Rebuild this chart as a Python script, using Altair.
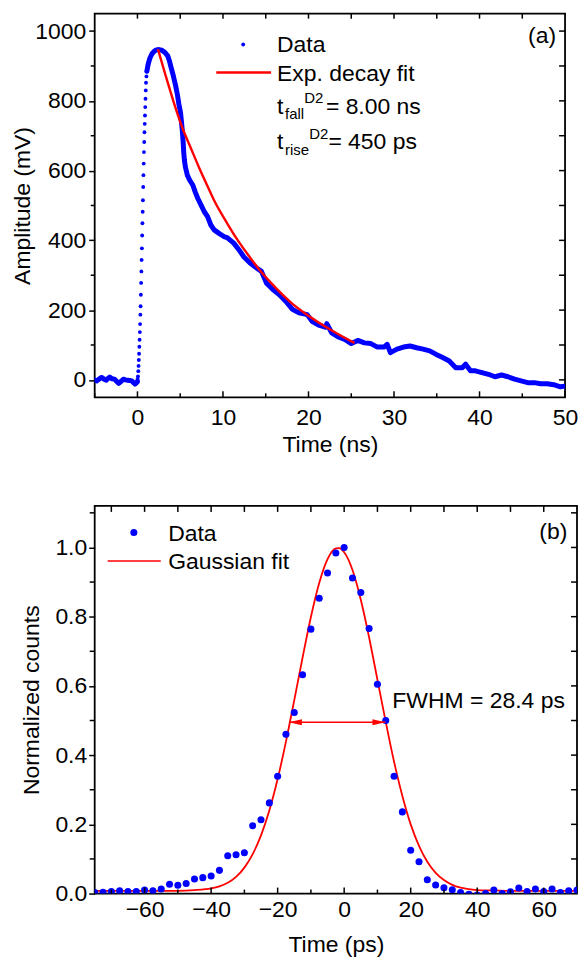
import altair as alt
import pandas as pd

# ---------------- Panel (a): detector pulse ----------------
base_t = [-5.0, -4.78, -4.5, -4.2, -3.9, -3.63, -3.45, -3.25, -2.95, -2.68, -2.45,
          -2.19, -1.9, -1.65, -1.4, -1.16, -0.9, -0.65, -0.45, -0.27, -0.1, 0.0]
base_v = [0, -3, 2, 7, 2, -1, 4, 8, 3, 2, -4, -10, -4, 2, 0, -1, -2, -3, -8, -12, -8, -5]

rise_t = [0.02, 0.06, 0.10, 0.13, 0.16, 0.19, 0.22, 0.25, 0.28, 0.31,
          0.34, 0.37, 0.40, 0.43, 0.46, 0.49, 0.52, 0.55, 0.58, 0.61,
          0.64, 0.67, 0.70, 0.73, 0.76, 0.79, 0.82, 0.85, 0.88, 0.91,
          0.94, 0.97, 1.00, 1.05, 1.10]
rise_v = [2, 10, 25, 40, 57, 75, 95, 115, 137, 160,
          187, 211, 244, 278, 311, 344, 377, 414, 449, 482,
          515, 553, 587, 620, 653, 682, 710, 734, 758, 782,
          806, 830, 852, 870, 885]

tail_t = [1.10, 1.25, 1.45, 1.70, 1.95, 2.20, 2.50, 2.85, 3.20, 3.54,
          3.73, 3.93, 4.19, 4.46, 4.69, 4.84, 5.03, 5.15, 5.26, 5.34,
          5.41, 5.49, 5.60, 5.83, 6.10, 6.48, 6.75, 7.06, 7.44, 7.82,
          8.20, 8.58, 8.97, 9.54, 10.11, 10.49, 11.26, 12.02, 12.40, 13.17,
          13.93, 14.50, 15.07, 15.84, 16.60, 17.36, 18.13, 18.89, 19.85, 20.42,
          21.19, 21.96, 22.14, 22.71, 23.48, 24.24, 25.00, 25.77, 26.53, 27.29,
          28.06, 28.82, 29.20, 29.58, 30.35, 31.11, 31.87, 32.64, 33.40, 34.17,
          34.93, 35.69, 36.46, 37.22, 37.98, 38.37, 38.94, 39.51, 40.28, 41.04,
          41.81, 42.57, 43.33, 44.10, 44.86, 45.63, 46.39, 47.15, 47.92, 48.68,
          49.45, 50.00]
tail_v = [885, 905, 922, 935, 942, 946, 947, 945, 939, 929,
          915, 896, 872, 844, 815, 791, 767, 739, 710, 682,
          653, 630, 611, 587, 573, 558, 539, 520, 501, 482,
          468, 444, 430, 420, 411, 408, 392, 368, 354, 335,
          321, 311, 278, 259, 244, 225, 202, 192, 187, 168,
          157, 151, 161, 135, 123, 116, 104, 113, 106, 104,
          94, 94, 102, 78, 88, 94, 97, 92, 88, 83,
          73, 64, 54, 35, 35, 45, 26, 26, 21, 16,
          9, 14, 9, 2, -3, -8, -8, -11, -11, -14,
          -20, -18]

fit_a_t = [2.40, 3.30, 4.19, 5.26, 6.20, 7.25, 8.20, 8.97, 10.49, 11.60,
           12.80, 14.31, 16.20, 18.13, 20.00, 21.95, 23.70, 25.38]
fit_a_v = [948, 872, 800, 722, 667, 606, 555, 514, 449, 405,
           363, 314, 263, 218, 184, 153, 128, 106]

xa_labels = [0, 10, 20, 30, 40, 50]
xa_minor = [-5, 5, 15, 25, 35, 45]
xa_top = [0, 5, 10, 15, 20, 25, 30, 35, 40, 45]
ya_labels = [0, 200, 400, 600, 800, 1000]
ya_minor = [100, 300, 500, 700, 900]
ya_right = [0, 100, 200, 300, 400, 500, 600, 700, 800, 900, 1000]

# ---------------- Panel (b): timing jitter histogram ----------------
hist_t = [-75, -72.5, -70, -67.5, -65, -62.5, -60, -57.5, -55, -52.5,
          -50, -47.5, -45, -42.5, -40, -37.5, -35, -32.5, -30, -27.5,
          -25, -22.5, -20, -17.5, -15, -12.5, -10, -7.5, -5, -2.5,
          0, 2.5, 5, 7.5, 10, 12.5, 15, 17.5, 20, 22.5,
          25, 27.5, 30, 32.5, 35, 37.5, 40, 42.5, 45, 47.5,
          50, 52.5, 55, 57.5, 60, 62.5, 65, 67.5, 70]
hist_v = [0.003, 0.004, 0.006, 0.008, 0.006, 0.006, 0.010, 0.008, 0.013, 0.027,
          0.024, 0.029, 0.042, 0.046, 0.051, 0.067, 0.109, 0.112, 0.118, 0.196,
          0.213, 0.262, 0.339, 0.460, 0.523, 0.632, 0.764, 0.853, 0.926, 0.984,
          1.000, 0.912, 0.870, 0.766, 0.605, 0.500, 0.339, 0.236, 0.125, 0.092,
          0.040, 0.025, 0.017, 0.011, 0.003, -0.002, -0.004, 0.000, 0.010, 0.000,
          0.005, 0.016, 0.006, 0.013, 0.006, 0.013, 0.003, 0.008, 0.010]

gfit_t = [-75, -60, -50, -45, -40, -37.5, -35, -32.5, -30, -27.5,
          -25, -22.5, -20, -17.5, -15, -12.5, -10, -7.5, -5, -2.5,
          -1.5, 0, 2.5, 5, 7.5, 10, 12.5, 15, 17.5, 20,
          22.5, 25, 27.5, 30, 32.5, 35, 37.5, 40, 45, 50, 60, 70]
gfit_v = [0.008, 0.008, 0.008, 0.010, 0.015, 0.021, 0.031, 0.048, 0.075, 0.114,
          0.168, 0.240, 0.331, 0.439, 0.559, 0.682, 0.799, 0.897, 0.966, 0.997,
          0.998, 0.986, 0.935, 0.849, 0.740, 0.618, 0.496, 0.381, 0.282, 0.200,
          0.138, 0.092, 0.060, 0.039, 0.025, 0.017, 0.013, 0.010, 0.009, 0.008, 0.008, 0.008]

fwhm_t = [-16.6, 12.4]
fwhm_v = [0.495, 0.495]

xb_labels = [-60, -40, -20, 0, 20, 40, 60]
xb_minor = [-70, -50, -30, -10, 10, 30, 50]
xb_top = [-70, -60, -50, -40, -30, -20, -10, 0, 10, 20, 30, 40, 50, 60]
yb_labels = [0.0, 0.2, 0.4, 0.6, 0.8, 1.0]
yb_minor = [0.1, 0.3, 0.5, 0.7, 0.9, 1.1]
yb_right = [0.1, 0.2, 0.3, 0.4, 0.5, 0.6, 0.7, 0.8, 0.9, 1.0, 1.1]

# ---------------- styling ----------------
FONT = "Liberation Sans"
FS = 23
SUB = 15
BLUE = "#0000ff"
RED = "#ff0000"
WA, HA = 472, 385
WB, HB = 484, 389

xa = alt.Scale(domain=[-5, 50], nice=False, zero=False)
ya = alt.Scale(domain=[-50, 1050], nice=False, zero=False)
xb = alt.Scale(domain=[-75, 70], nice=False, zero=False)
yb = alt.Scale(domain=[0, 1.12], nice=False, zero=False)

XA = alt.X("t:Q", scale=xa, axis=alt.Axis(
    values=xa_labels, format="d", title="Time (ns)", ticks=False, domain=False,
    labelPadding=9, titlePadding=4, labelFlush=False, labelOverlap=False))
YA = alt.Y("v:Q", scale=ya, axis=alt.Axis(
    values=ya_labels, format="d", title="Amplitude (mV)", tickSize=6, domain=False,
    labelPadding=3, titlePadding=0, labelFlush=False, labelOverlap=False))
XB = alt.X("t:Q", scale=xb, axis=alt.Axis(
    values=xb_labels, format="d", title="Time (ps)", ticks=False, domain=False,
    labelPadding=5, titlePadding=12, labelFlush=False, labelOverlap=False))
YB = alt.Y("v:Q", scale=yb, axis=alt.Axis(
    values=yb_labels, format=".1f", title="Normalized counts", tickSize=6, domain=False,
    labelPadding=2, titlePadding=11, labelFlush=False, labelOverlap=False))

one = pd.DataFrame({"k": [0]})


def vticks(values, X, y0, y1):
    return alt.Chart(pd.DataFrame({"t": values})).mark_rule(
        color="black", strokeWidth=1.5).encode(x=X, y=alt.value(y0), y2=alt.value(y1))


def hticks(values, Y, x0, x1):
    return alt.Chart(pd.DataFrame({"v": values})).mark_rule(
        color="black", strokeWidth=1.5).encode(y=Y, x=alt.value(x0), x2=alt.value(x1))


def txt(s, x, y, size=FS, align="left"):
    return alt.Chart(one).mark_text(
        text=s, font=FONT, fontSize=size, align=align, baseline="alphabetic",
        color="black").encode(x=alt.value(x), y=alt.value(y))


# ----- panel (a) -----
dfa_pts = pd.DataFrame({"t": base_t + rise_t + tail_t, "v": base_v + rise_v + tail_v})
dfa_band = pd.DataFrame({"t": base_t + tail_t, "v": base_v + tail_v,
                         "seg": ["base"] * len(base_t) + ["tail"] * len(tail_t)})
dfa_fit = pd.DataFrame({"t": fit_a_t, "v": fit_a_v})

band_a = alt.Chart(dfa_band).mark_line(
    color=BLUE, strokeWidth=5, clip=True, strokeJoin="round", strokeCap="round").encode(
    x=XA, y=YA, detail="seg:N")
pts_a = alt.Chart(dfa_pts).mark_circle(size=15, color=BLUE, opacity=1, clip=True).encode(
    x=XA, y=YA)
fit_a = alt.Chart(dfa_fit).mark_line(color=RED, strokeWidth=2.4, interpolate="monotone").encode(
    x=XA, y=YA)

leg_a = [
    alt.Chart(one).mark_circle(size=15, color=BLUE, opacity=1).encode(
        x=alt.value(149), y=alt.value(31)),
    txt("Data", 183, 38.5),
    alt.Chart(one).mark_rule(color=RED, strokeWidth=2.4).encode(
        x=alt.value(122), x2=alt.value(177), y=alt.value(59)),
    txt("Exp. decay fit", 183, 67.5),
    txt("t", 183, 100.7), txt("fall", 191, 105.5, SUB), txt("D2", 210.3, 89.5, SUB),
    txt("= 8.00 ns", 232, 100.7),
    txt("t", 183, 135.7), txt("rise", 191, 142.3, SUB), txt("D2", 215.3, 125.7, SUB),
    txt("= 450 ps", 234.5, 135.7),
    txt("(a)", 463, 29.5, align="right"),
]

panel_a = alt.layer(
    band_a, pts_a, fit_a,
    vticks(xa_labels, XA, HA, HA - 6), vticks(xa_minor, XA, HA, HA - 4),
    vticks(xa_top, XA, 0, 5),
    hticks(ya_minor, YA, -4, 0), hticks(ya_right, YA, WA, WA - 6),
    *leg_a,
).properties(width=WA, height=HA)

# ----- panel (b) -----
dfb_pts = pd.DataFrame({"t": hist_t, "v": hist_v})
dfb_fit = pd.DataFrame({"t": gfit_t, "v": gfit_v})
dfb_arrow = pd.DataFrame({"t": fwhm_t, "v": fwhm_v})

fit_b = alt.Chart(dfb_fit).mark_line(color=RED, strokeWidth=1.8, interpolate="monotone", clip=True).encode(
    x=XB, y=YB)
pts_b = alt.Chart(dfb_pts).mark_circle(size=50, color=BLUE, opacity=1, clip=True).encode(
    x=XB, y=YB)
arrow_line = alt.Chart(dfb_arrow).mark_line(color=RED, strokeWidth=1.6).encode(x=XB, y=YB)
head_shape = "M -1 0 L 1 -0.45 L 1 0.45 Z"
head_l = alt.Chart(dfb_arrow.iloc[[0]]).mark_point(
    shape=head_shape, size=169, filled=True, color=RED, opacity=1, xOffset=6.5).encode(
    x=XB, y=YB)
head_r = alt.Chart(dfb_arrow.iloc[[1]]).mark_point(
    shape=head_shape, size=169, filled=True, color=RED, opacity=1, angle=180, xOffset=-6.5).encode(
    x=XB, y=YB)

leg_b = [
    alt.Chart(one).mark_circle(size=50, color=BLUE, opacity=1).encode(
        x=alt.value(39.3), y=alt.value(26.7)),
    txt("Data", 73.7, 35),
    alt.Chart(one).mark_rule(color=RED, strokeWidth=1.6).encode(
        x=alt.value(13), x2=alt.value(66.3), y=alt.value(55.3)),
    txt("Gaussian fit", 73.7, 63.7),
    txt("(b)", 474.3, 33.3, align="right"),
    txt("FWHM = 28.4 ps", 298.7, 202.5),
]

panel_b = alt.layer(
    fit_b, pts_b, arrow_line, head_l, head_r,
    vticks(xb_labels, XB, HB, HB - 6), vticks(xb_minor, XB, HB, HB - 4),
    vticks(xb_top, XB, 0, 6),
    hticks(yb_minor, YB, -5, 0), hticks(yb_right, YB, WB, WB - 6),
    *leg_b,
).properties(width=WB, height=HB)

chart = alt.vconcat(panel_a, panel_b, spacing=47).configure(
    padding={"left": 2, "top": 2, "right": 0, "bottom": 0},
    font=FONT,
).configure_view(
    stroke="black", strokeWidth=1.8
).configure_axis(
    labelFont=FONT, titleFont=FONT, labelFontSize=FS, titleFontSize=FS,
    labelColor="black", titleColor="black", titleFontWeight="normal",
    tickColor="black", tickWidth=1.5, grid=False,
)

chart.save("out.html", embed_options={"renderer": "svg", "actions": False})
